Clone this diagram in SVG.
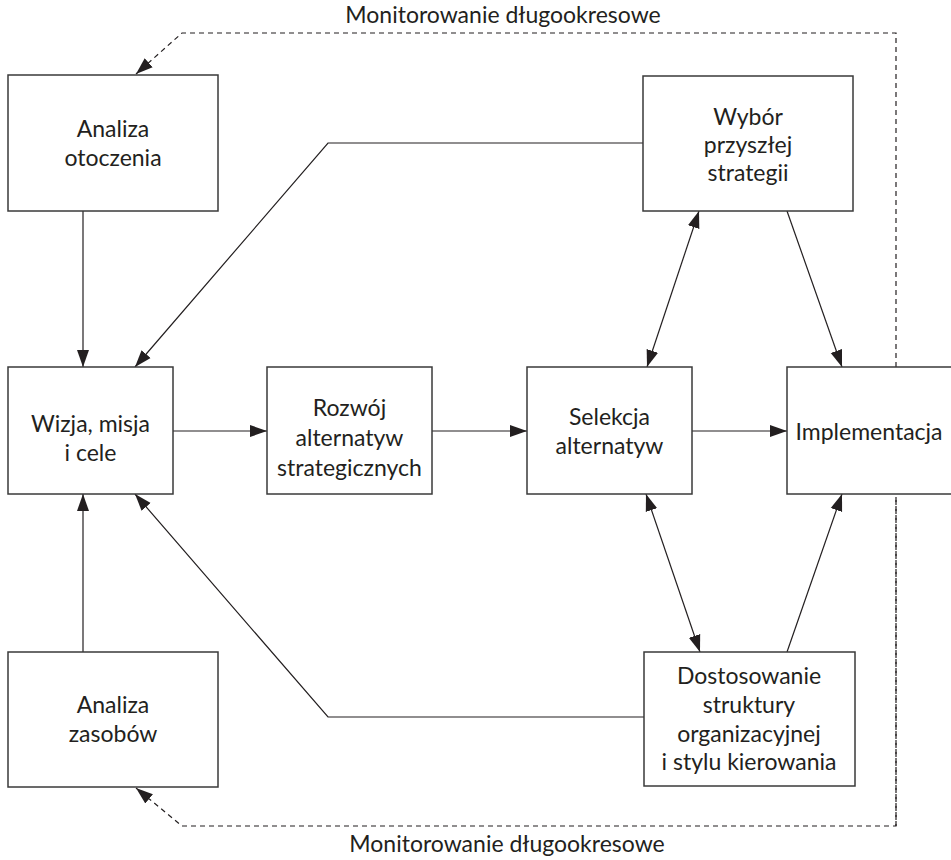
<svg xmlns="http://www.w3.org/2000/svg" width="951" height="860" viewBox="0 0 951 860">
<defs>
<style>
.box{fill:#fff;stroke:#3a3a3a;stroke-width:1.5}
.t{font-family:Lato,"Liberation Sans",sans-serif;font-size:23px;fill:#231f20;text-anchor:middle}
.c{fill:none;stroke:#231f20;stroke-width:1.2}
.d{fill:none;stroke:#231f20;stroke-width:1.2;stroke-dasharray:5 4}
</style>
<marker id="ah" markerUnits="userSpaceOnUse" markerWidth="18" markerHeight="14" viewBox="0 0 18 14" refX="17" refY="7" orient="auto-start-reverse">
<path d="M0,1 L17,7 L0,13 z" fill="#231f20"/>
</marker>
</defs>
<rect width="951" height="860" fill="#fff"/>
<g id="connectors">
<path class="d" d="M896,826 V33 H182 L136,74" marker-end="url(#ah)"/>
<path class="d" d="M896,500 V826 H182 L136,788" marker-end="url(#ah)"/>
<line class="c" x1="83" y1="211" x2="83" y2="367" marker-end="url(#ah)"/>
<line class="c" x1="83" y1="652" x2="83" y2="494" marker-end="url(#ah)"/>
<path class="c" d="M643,143 H328 L135,367" marker-end="url(#ah)"/>
<path class="c" d="M644,717 H328 L135,494" marker-end="url(#ah)"/>
<line class="c" x1="173" y1="431" x2="267" y2="431" marker-end="url(#ah)"/>
<line class="c" x1="432" y1="431" x2="527" y2="431" marker-end="url(#ah)"/>
<line class="c" x1="692" y1="431" x2="787" y2="431" marker-end="url(#ah)"/>
<line class="c" x1="699" y1="211" x2="647" y2="367" marker-start="url(#ah)" marker-end="url(#ah)"/>
<line class="c" x1="646" y1="494" x2="700" y2="652" marker-start="url(#ah)" marker-end="url(#ah)"/>
<line class="c" x1="787" y1="211" x2="842" y2="367" marker-end="url(#ah)"/>
<line class="c" x1="787" y1="652" x2="842" y2="494" marker-end="url(#ah)"/>
</g>
<g id="label-top"><text class="t" x="503" y="23">Monitorowanie długookresowe</text></g>
<g id="label-bottom"><text class="t" x="507" y="852">Monitorowanie długookresowe</text></g>
<g id="analiza-otoczenia">
<rect class="box" x="8" y="75" width="210" height="136"/>
<text class="t" x="113" y="137">Analiza</text>
<text class="t" x="113" y="166">otoczenia</text>
</g>
<g id="wizja">
<rect class="box" x="8" y="367" width="165" height="127"/>
<text class="t" x="90.5" y="432">Wizja, misja</text>
<text class="t" x="90.5" y="461">i cele</text>
</g>
<g id="rozwoj">
<rect class="box" x="267" y="367" width="165" height="127"/>
<text class="t" x="349.5" y="416">Rozwój</text>
<text class="t" x="349.5" y="446">alternatyw</text>
<text class="t" x="349.5" y="476">strategicznych</text>
</g>
<g id="selekcja">
<rect class="box" x="527" y="367" width="165" height="127"/>
<text class="t" x="609.5" y="425">Selekcja</text>
<text class="t" x="609.5" y="454">alternatyw</text>
</g>
<g id="implementacja">
<rect class="box" x="787" y="367" width="166" height="127"/>
<text class="t" x="869" y="440">Implementacja</text>
</g>
<g id="wybor">
<rect class="box" x="643" y="76" width="210" height="135"/>
<text class="t" x="748" y="125">Wybór</text>
<text class="t" x="748" y="153">przyszłej</text>
<text class="t" x="748" y="181">strategii</text>
</g>
<g id="dostosowanie">
<rect class="box" x="644" y="652" width="211" height="134"/>
<text class="t" x="749" y="684">Dostosowanie</text>
<text class="t" x="749" y="713">struktury</text>
<text class="t" x="749" y="742">organizacyjnej</text>
<text class="t" x="749" y="770">i stylu kierowania</text>
</g>
<g id="analiza-zasobow">
<rect class="box" x="8" y="652" width="210" height="135"/>
<text class="t" x="113" y="713">Analiza</text>
<text class="t" x="113" y="742">zasobów</text>
</g>
</svg>
